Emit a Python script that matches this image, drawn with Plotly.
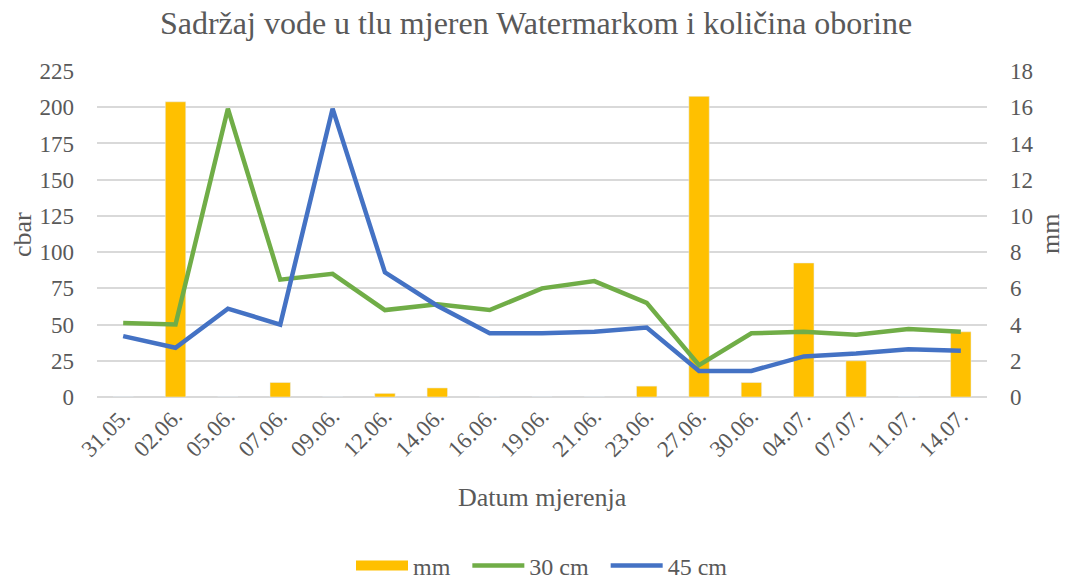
import plotly.graph_objects as go

dates = ["31.05.", "02.06.", "05.06.", "07.06.", "09.06.", "12.06.", "14.06.", "16.06.", "19.06.",
         "21.06.", "23.06.", "27.06.", "30.06.", "04.07.", "07.07.", "11.07.", "14.07."]
mm = [0, 16.3, 0, 0.8, 0, 0.2, 0.5, 0, 0, 0, 0.6, 16.6, 0.8, 7.4, 2.0, 0, 3.6]
cm30 = [51, 50, 199, 81, 85, 60, 64, 60, 75, 80, 65, 22, 44, 45, 43, 47, 45]
cm45 = [42, 34, 61, 50, 199, 86, 63, 44, 44, 45, 48, 18, 18, 28, 30, 33, 32]

font = "Liberation Serif, Times New Roman, serif"
grey = "#595959"
fs = 23
pad = "\u00a0\u00a0"

fig = go.Figure()
fig.add_trace(go.Bar(x=dates, y=mm, name="mm", marker_color="#FFC000", yaxis="y",
                     width=0.39, showlegend=False))
# legend swatch for the bars (wide rectangle like the reference)
fig.add_trace(go.Scatter(x=[None], y=[None], name="mm" + pad, mode="lines",
                         line=dict(color="#FFC000", width=12), yaxis="y"))
fig.add_trace(go.Scatter(x=dates, y=cm30, name="30 cm" + pad, mode="lines",
                         line=dict(color="#70AD47", width=4.5), yaxis="y2"))
fig.add_trace(go.Scatter(x=dates, y=cm45, name="45 cm", mode="lines",
                         line=dict(color="#4472C4", width=4.5), yaxis="y2"))

fig.update_layout(
    width=1072, height=581,
    margin=dict(l=97, r=85, t=71, b=184, autoexpand=False),
    paper_bgcolor="white", plot_bgcolor="white",
    font=dict(family=font, color=grey, size=fs),
    title=dict(text="Sadržaj vode u tlu mjeren Watermarkom i količina oborine",
               x=0.5, xanchor="center", y=0.9604, yanchor="middle",
               font=dict(size=32, color=grey, family=font)),
    xaxis=dict(type="category", tickangle=-45, showgrid=False, showline=False,
               ticks="", tickfont=dict(size=fs, color=grey, family=font), automargin=False),
    yaxis=dict(side="right", range=[0, 18], dtick=2, showgrid=True, gridcolor="#D9D9D9",
               gridwidth=1.5, zeroline=True, zerolinecolor="#D9D9D9", zerolinewidth=1.5,
               ticks="", ticklabelstandoff=22, tickfont=dict(size=fs, color=grey, family=font),
               automargin=False),
    yaxis2=dict(side="left", overlaying="y", range=[0, 225], dtick=25, showgrid=False,
                zeroline=False, ticks="", ticklabelstandoff=22,
                tickfont=dict(size=fs, color=grey, family=font), automargin=False),
    legend=dict(orientation="h", x=0.5, xanchor="center", yref="container", y=0.0258,
                yanchor="middle", font=dict(size=24, color=grey, family=font), itemwidth=52,
                tracegroupgap=0),
    annotations=[
        dict(text="Datum mjerenja", xref="paper", yref="paper", x=0.5, y=-0.307,
             xanchor="center", yanchor="middle", showarrow=False,
             font=dict(size=26, color=grey, family=font)),
        dict(text="cbar", xref="paper", yref="paper", x=-0.0843, y=0.5,
             xanchor="center", yanchor="middle", textangle=-90, showarrow=False,
             font=dict(size=26, color=grey, family=font)),
        dict(text="mm", xref="paper", yref="paper", x=1.0708, y=0.5,
             xanchor="center", yanchor="middle", textangle=-90, showarrow=False,
             font=dict(size=26, color=grey, family=font)),
    ],
)

# remove the default 8px page margin so the figure fills the window exactly
fig.write_html("out.html", config={"displayModeBar": False},
               post_script="document.body.style.margin='0';")
